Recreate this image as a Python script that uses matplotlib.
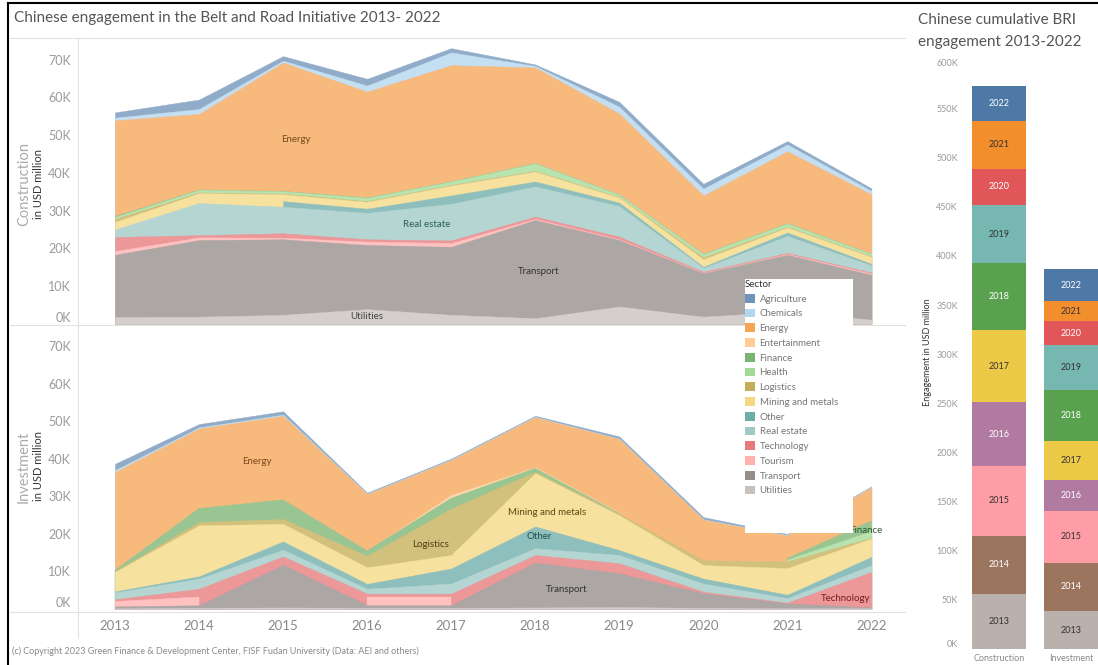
import numpy as np
import matplotlib
import matplotlib.pyplot as plt
from matplotlib.colors import to_rgb
from matplotlib.patches import Patch, Rectangle
from matplotlib.lines import Line2D

plt.rcParams['font.family'] = ['Lato', 'DejaVu Sans']

nan = np.nan
years = [2013, 2014, 2015, 2016, 2017, 2018, 2019, 2020, 2021, 2022]
sectors = ['Agriculture', 'Chemicals', 'Energy', 'Entertainment', 'Finance', 'Health',
           'Logistics', 'Mining and metals', 'Other', 'Real estate', 'Technology',
           'Tourism', 'Transport', 'Utilities']
sector_colors = ['#4E79A7', '#A0CBE8', '#F28E2B', '#FFBE7D', '#59A14F', '#8CD17D',
                 '#B6992D', '#F1CE63', '#499894', '#86BCB6', '#E15759',
                 '#FF9D9A', '#79706E', '#BAB0AC']

# Construction, USD million (nan = no entry that year)
c_agriculture = [1400, 2500, 1200, 1800, 1100, 400, 1300, 1300, 900, 700]
c_chemicals = [700, 1300, 500, 1600, 3400, 400, 1800, 1800, 1800, 900]
c_energy = [25300, 20000, 34000, 28000, 30700, 25300, 21400, 15400, 19000, 15700]
c_entertainment = [nan, nan, nan, nan, nan, nan, nan, nan, nan, nan]
c_finance = [300, 100, 100, 100, 100, 100, 100, 100, 100, 100]
c_health = [500, 700, 600, 900, 900, 2000, 600, 900, 900, 600]
c_logistics = [800, 200, 200, 200, 200, 200, 200, 500, 200, 200]
c_mining = [2000, 2600, 1800, 1800, 2600, 2600, 1300, 2000, 1300, 1800]
c_other = [nan, nan, 1500, 1100, 2200, 1300, 900, 300, 900, 400]
c_real_estate = [2000, 8500, 7000, 7000, 9700, 8000, 8100, 1000, 4500, 1900]
c_technology = [3700, 600, 1200, 600, 700, 600, 700, 300, 300, 300]
c_tourism = [1000, 700, 400, 900, 1000, 300, 200, 100, 200, 300]
c_transport = [16500, 20300, 20000, 17000, 18000, 26000, 17600, 11500, 15000, 11900]
c_utilities = [1800, 1900, 2400, 3900, 2400, 1500, 4600, 1900, 3300, 1100]

# Investment, USD million
i_agriculture = [1700, 900, 900, 300, 300, 300, 600, 600, 300, 200]
i_chemicals = [500, 300, 300, 100, 100, 100, 100, 100, 100, 100]
i_energy = [26200, 21300, 22400, 15100, 9300, 13300, 19600, 10800, 6100, 8900]
i_entertainment = [nan, nan, nan, 0, 900, 300, 200, nan, nan, nan]
i_finance = [200, 3600, 5100, 1300, 2700, 900, 100, nan, 300, 2700]
i_health = [nan, nan, nan, nan, nan, nan, nan, nan, 500, 1800]
i_logistics = [200, 900, 1300, 3100, 12400, 400, 400, 1300, 1800, 200]
i_mining = [5200, 13600, 4700, 4400, 3600, 14200, 9300, 3600, 7100, 4900]
i_other = [300, 600, 2200, 1300, 4000, 5800, 1300, 1300, 900, 2200]
i_real_estate = [1800, 2700, 1800, 1300, 2700, 1800, 2200, 2200, 1200, 1800]
i_technology = [600, 2200, 2200, 900, 900, 2000, 2700, 400, 200, 9500]
i_tourism = [1300, 2200, nan, 2200, 2200, nan, nan, nan, nan, nan]
i_transport = [500, 700, 11400, 700, 700, 12000, 9000, 3900, 1300, 200]
i_utilities = [200, 300, 400, 300, 300, 400, 500, 300, 200, 200]

construction = [c_agriculture, c_chemicals, c_energy, c_entertainment, c_finance, c_health,
                c_logistics, c_mining, c_other, c_real_estate, c_technology, c_tourism,
                c_transport, c_utilities]
investment = [i_agriculture, i_chemicals, i_energy, i_entertainment, i_finance, i_health,
              i_logistics, i_mining, i_other, i_real_estate, i_technology, i_tourism,
              i_transport, i_utilities]

year_colors = ['#BAB0AC', '#9C755F', '#FF9DA7', '#B07AA1', '#EDC948', '#59A14F',
               '#76B7B2', '#E15759', '#F28E2B', '#4E79A7']
year_text = ['#333333', 'white', '#333333', 'white', '#333333', 'white',
             '#333333', 'white', '#333333', 'white']

W, H = 1098, 665


def tint(c, a):
    r = np.array(to_rgb(c))
    return tuple(a * r + (1 - a) * np.ones(3))


def fx(x):
    return x / W


def fy(y):
    return 1 - y / H


fig = plt.figure(figsize=(W / 100, H / 100), dpi=100)
fig.patch.set_facecolor('white')

ax_top = fig.add_axes([fx(78), fy(325), (905 - 78) / W, (325 - 38) / H])
ax_bot = fig.add_axes([fx(78), fy(612), (905 - 78) / W, (612 - 325) / H])


def stack_panel(ax, series):
    # cumulative tops, bottom of the stack is the last sector in the legend
    arr = np.nan_to_num(np.array(series, dtype=float))
    tops = np.cumsum(arr[::-1], axis=0)[::-1]
    # paint each layer down to zero, top layer first, so a missing year
    # is covered by the layer above instead of leaving a hole
    for vals, top, col in zip(series, tops, sector_colors):
        present = ~np.isnan(np.array(vals, dtype=float))
        fc = tint(col, 0.62)
        ax.fill_between(years, 0, top, where=present, facecolor=fc,
                        edgecolor=fc, linewidth=0.3)


stack_panel(ax_top, construction)
stack_panel(ax_bot, investment)

ticks = np.arange(0, 70001, 10000)
for ax, ylo in [(ax_top, -300), (ax_bot, -800)]:
    ax.set_xlim(2012.56, 2022.40)
    ax.set_ylim(ylo, 75700)
    ax.set_yticks(ticks)
    ax.set_yticklabels(['%dK' % (t // 1000) for t in ticks])
    ax.tick_params(axis='y', length=0, pad=5, labelsize=9, labelcolor='#9a9a9a')
    ax.tick_params(axis='x', length=0)
    for s in ax.spines.values():
        s.set_visible(False)
    ax.get_yticklabels()[0].set_va('bottom')

ax_top.set_xticks([])
ax_bot.set_xticks(years)
ax_bot.set_xticklabels([str(y) for y in years])
ax_bot.tick_params(axis='x', pad=6, labelsize=9.5, labelcolor='#8a8a8a')

# labels on the areas
ax_top.text(2015.15, 48900, 'Energy', fontsize=7, color='#7a4a1c', ha='center', va='center')
ax_top.text(2016.71, 26200, 'Real estate', fontsize=7, color='#2f5c58', ha='center', va='center')
ax_top.text(2018.04, 13800, 'Transport', fontsize=7, color='#333333', ha='center', va='center')
ax_top.text(2015.99, 1900, 'Utilities', fontsize=7, color='#444444', ha='center', va='center')
ax_bot.text(2014.69, 39200, 'Energy', fontsize=7, color='#7a4a1c', ha='center', va='center')
ax_bot.text(2016.76, 17100, 'Logistics', fontsize=7, color='#4a3e12', ha='center', va='center')
ax_bot.text(2018.14, 25600, 'Mining and metals', fontsize=7, color='#5a4a12', ha='center', va='center')
ax_bot.text(2018.05, 19200, 'Other', fontsize=7, color='#1e4f4d', ha='center', va='center')
ax_bot.text(2018.37, 5100, 'Transport', fontsize=7, color='#333333', ha='center', va='center')
ax_bot.text(2021.69, 2700, 'Technology', fontsize=7, color='#7a1e1e', ha='center', va='center')
ax_bot.text(2021.93, 20900, 'Finance', fontsize=7, color='#2a5a2a', ha='center', va='center')

# right: cumulative bars
ax_bar = fig.add_axes([fx(965), fy(650), (1098 - 965) / W, (650 - 59) / H])
groups = ['Construction', 'Investment']
for gi, series in enumerate([construction, investment]):
    totals = np.nansum(np.array(series, dtype=float), axis=0)
    bottom = 0
    for yi, yr in enumerate(years):
        ax_bar.bar(gi, totals[yi], bottom=bottom, width=0.75, color=year_colors[yi])
        ax_bar.text(gi, bottom + totals[yi] / 2, str(yr), fontsize=6.5,
                    color=year_text[yi], ha='center', va='center')
        bottom += totals[yi]
ax_bar.set_xlim(-0.47, 1.375)
ax_bar.set_ylim(-1000, 600500)
bt = np.arange(0, 600001, 50000)
ax_bar.set_yticks(bt)
ax_bar.set_yticklabels(['%dK' % (t // 1000) for t in bt])
ax_bar.set_xticks([0, 1])
ax_bar.set_xticklabels(groups)
ax_bar.tick_params(axis='y', length=0, pad=5, labelsize=6.5, labelcolor='#9a9a9a')
ax_bar.tick_params(axis='x', length=0, pad=3, labelsize=6.5, labelcolor='#8a8a8a')
ax_bar.get_yticklabels()[0].set_va('bottom')
ax_bar.get_yticklabels()[-1].set_va('top')
for s in ax_bar.spines.values():
    s.set_visible(False)

# titles and axis captions
fig.text(fx(14), fy(18), 'Chinese engagement in the Belt and Road Initiative 2013- 2022',
         fontsize=11, color='#555555', va='center')
fig.text(fx(918), fy(20), 'Chinese cumulative BRI', fontsize=11, color='#555555', va='center')
fig.text(fx(918), fy(42), 'engagement 2013-2022', fontsize=11, color='#555555', va='center')
fig.text(fx(24), fy(184), 'Construction', fontsize=10.5, color='#ababab', rotation=90,
         ha='center', va='center')
fig.text(fx(38), fy(184), 'in USD million', fontsize=8, color='#333333', rotation=90,
         ha='center', va='center')
fig.text(fx(24), fy(467), 'Investment', fontsize=10.5, color='#ababab', rotation=90,
         ha='center', va='center')
fig.text(fx(38), fy(466), 'in USD million', fontsize=8, color='#333333', rotation=90,
         ha='center', va='center')
fig.text(fx(928), fy(352), 'Engagement in USD million', fontsize=6.5, color='#333333',
         rotation=90, ha='center', va='center')
fig.text(fx(12), fy(651), '(c) Copyright 2023 Green Finance & Development Center, FISF Fudan University (Data: AEI and others)',
         fontsize=6.5, color='#8a8a8a', va='center')

# pane dividers and frame
line_c = '#e2e2e2'
fig.add_artist(Line2D([fx(10), fx(905)], [fy(38), fy(38)], color=line_c, lw=0.8))
fig.add_artist(Line2D([fx(10), fx(905)], [fy(325), fy(325)], color=line_c, lw=0.8))
fig.add_artist(Line2D([fx(10), fx(905)], [fy(612), fy(612)], color=line_c, lw=0.8))
fig.add_artist(Line2D([fx(78), fx(78)], [fy(38), fy(638)], color=line_c, lw=0.8))
fig.add_artist(Line2D([fx(8), fx(8)], [fy(3), fy(665)], color='black', lw=1.5))
fig.add_artist(Line2D([fx(8), fx(1098)], [fy(3), fy(3)], color='black', lw=1.5))

# legend box
fig.add_artist(Rectangle((fx(745), fy(533)), (853 - 745) / W, (533 - 279) / H,
                         transform=fig.transFigure, facecolor='white', edgecolor='none',
                         zorder=2))
handles = [Patch(facecolor=tint(c, 0.8), edgecolor='none') for c in sector_colors]
leg = fig.legend(handles, sectors, title='Sector', loc='upper left',
                 bbox_to_anchor=(fx(743), fy(278)), frameon=False, fontsize=7,
                 title_fontsize=7, handlelength=1.0, handleheight=1.0,
                 handletextpad=0.5, labelspacing=0.52, borderaxespad=0, borderpad=0.2)
leg._legend_box.align = 'left'
leg.set_zorder(3)
for t in leg.get_texts():
    t.set_color('#777777')
leg.get_title().set_color('#333333')

fig.savefig('out.png', dpi=100, facecolor='white')
